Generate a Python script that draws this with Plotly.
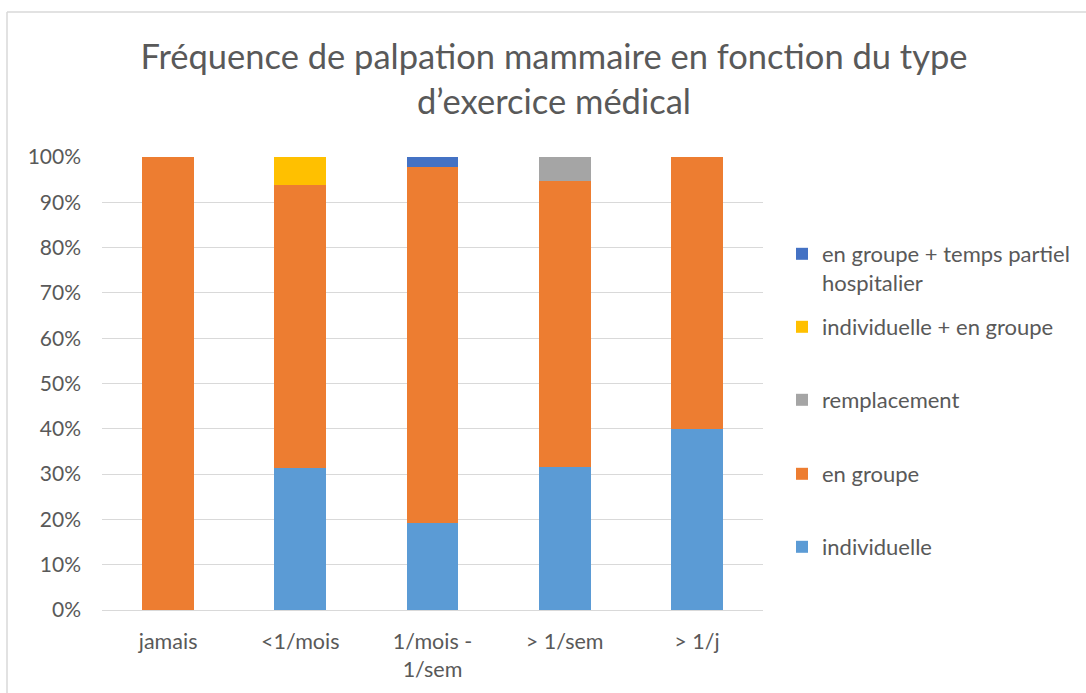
import plotly.graph_objects as go

# Fréquence de palpation (catégories de l'axe horizontal)
categories = ["jamais", "<1/mois", "1/mois -<br>1/sem", "> 1/sem", "> 1/j"]

# Part (%) de chaque type d'exercice médical par fréquence
individuelle = [0.0, 31.25, 19.15, 31.58, 40.0]
en_groupe = [100.0, 62.5, 78.72, 63.16, 60.0]
remplacement = [0.0, 0.0, 0.0, 5.26, 0.0]
indiv_et_groupe = [0.0, 6.25, 0.0, 0.0, 0.0]
groupe_temps_partiel = [0.0, 0.0, 2.13, 0.0, 0.0]

y_ticks = [0, 10, 20, 30, 40, 50, 60, 70, 80, 90, 100]
y_tick_labels = [f"{v}%" for v in y_ticks]

series = [
    ("individuelle", individuelle, "#5B9BD5"),
    ("en groupe", en_groupe, "#ED7D31"),
    ("remplacement", remplacement, "#A5A5A5"),
    ("individuelle + en groupe", indiv_et_groupe, "#FFC000"),
    ("en groupe + temps partiel<br>hospitalier", groupe_temps_partiel, "#4472C4"),
]

W, H = 1086, 693
FONT = "Lato"
TEXT_COLOR = "#595959"

# plot area in pixels
PL, PR, PT, PB = 102, 763, 157, 610


def cx(px):
    return px / W


def cy(py):
    return 1 - py / H


def paper_x(px):
    return (px - PL) / (PR - PL)


def paper_y(py):
    return (PB - py) / (PB - PT)


legend_keys = ["legend", "legend2", "legend3", "legend4", "legend5"]
# vertical pixel position of each legend entry (first text line), bottom series first
legend_rows = [547, 474, 400, 327, 254]

fig = go.Figure()
for (name, vals, color), key in zip(series, legend_keys):
    fig.add_trace(go.Bar(
        x=categories,
        y=vals,
        name=name,
        marker=dict(color=color, line=dict(width=0)),
        legend=key,
        hovertemplate="%{y:.1f}%<extra>" + name.replace("<br>", " ") + "</extra>",
    ))

legend_layout = {}
for key, row in zip(legend_keys, legend_rows):
    legend_layout[key] = dict(
        xref="container", yref="container",
        x=cx(782), y=cy(row - 21),
        xanchor="left", yanchor="top",
        valign="top",
        bgcolor="rgba(0,0,0,0)",
        font=dict(family=FONT, size=22, color=TEXT_COLOR),
        itemclick=False,
    )

fig.update_layout(
    width=W, height=H,
    paper_bgcolor="white",
    plot_bgcolor="white",
    barmode="stack",
    bargap=0.607,
    margin=dict(l=PL, r=W - PR, t=PT, b=H - PB, pad=0),
    font=dict(family=FONT, color=TEXT_COLOR),
    title=dict(
        text="Fréquence de palpation mammaire en fonction du type<br>d’exercice médical",
        x=cx(554), xanchor="center",
        y=cy(69), yanchor="top",
        font=dict(family=FONT, size=34.5, color=TEXT_COLOR),
    ),
    xaxis=dict(
        showgrid=False,
        showline=True, linecolor="#D9D9D9", linewidth=1,
        ticks="",
        tickfont=dict(family=FONT, size=21.5, color=TEXT_COLOR),
        ticklabelstandoff=12,
    ),
    yaxis=dict(
        range=[0, 100],
        tickvals=y_ticks,
        ticktext=y_tick_labels,
        showgrid=True, gridcolor="#D9D9D9", gridwidth=1,
        zeroline=False,
        showline=False,
        ticks="",
        tickfont=dict(family=FONT, size=21, color=TEXT_COLOR),
        ticklabelstandoff=20,
    ),
    showlegend=True,
    shapes=[
        # chart frame (left and top edges)
        dict(type="line", xref="paper", yref="paper",
             x0=paper_x(7), x1=paper_x(7), y0=paper_y(12), y1=paper_y(H + 5),
             line=dict(color="#D9D9D9", width=1.5)),
        dict(type="line", xref="paper", yref="paper",
             x0=paper_x(7), x1=paper_x(W + 5), y0=paper_y(12), y1=paper_y(12),
             line=dict(color="#D9D9D9", width=1.5)),
    ],
    **legend_layout,
)

fig.write_html("out.html")
